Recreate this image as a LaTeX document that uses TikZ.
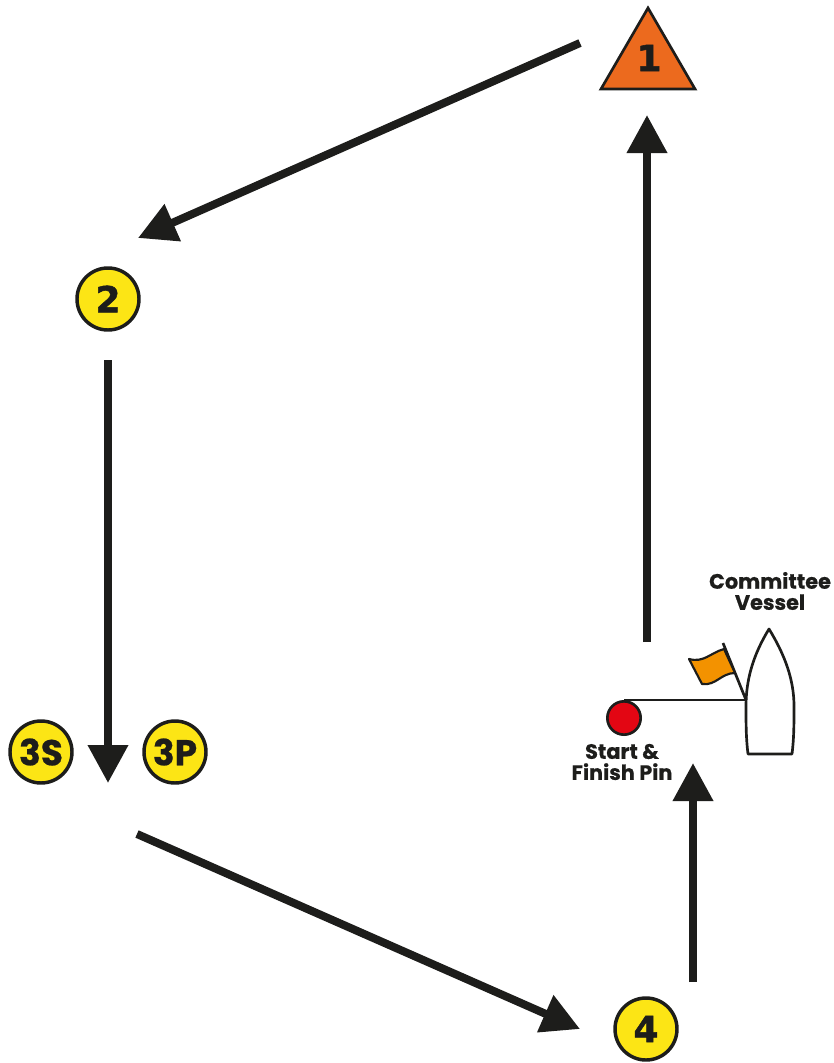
\documentclass[tikz,border=0pt]{standalone}
\usepackage{fontspec}
\setmainfont{Poppins}[BoldFont=Poppins Bold,BoldFeatures={FakeBold=0.6}]
\newfontfamily\markfont{DejaVu Sans Bold}[FakeBold=1.5]
\usetikzlibrary{arrows.meta}
\definecolor{ink}{HTML}{1D1D1B}
\definecolor{markyellow}{HTML}{FCE515}
\definecolor{markorange}{HTML}{EC6A1E}
\definecolor{flagorange}{HTML}{F39200}
\definecolor{pinred}{HTML}{E30613}
\tikzset{
  x=0.75pt,y=-0.75pt,
  leg/.style={draw=ink,line width=6pt,-{Triangle[length=28.5pt,width=29pt,fill=ink]}},
  buoy/.style={circle,draw=ink,line width=2.6pt,fill=markyellow,minimum size=46.5pt,inner sep=0pt,text=ink,font=\markfont\fontsize{27}{29}\selectfont},
  buoysm/.style={buoy,font=\bfseries\fontsize{27}{29}\selectfont},
  caption/.style={text=ink,font=\bfseries\fontsize{15.6}{15.8}\selectfont,align=center,inner sep=0pt},
  thinline/.style={draw=ink,line width=2pt},
}
\begin{document}
\begin{tikzpicture}
\useasboundingbox (0,0) rectangle (834,1063);
\fill[white] (0,0) rectangle (834,1063);
% marks
\coordinate (t1) at (648,8);
\coordinate (t2) at (601,89);
\coordinate (t3) at (695,89);
\filldraw[fill=markorange,draw=ink,line width=2pt,line join=miter] (t1) -- (t2) -- (t3) -- cycle;
\node[text=ink,font=\markfont\fontsize{27}{29}\selectfont,inner sep=0pt] (m1) at (649,58) {1};
\node[buoy] (m2) at (108,299) {2};
\node[buoysm] (m3s) at (41,752) {3S};
\node[buoysm] (m3p) at (175,752) {3P};
\node[buoy] (m4) at (646,1029) {4};
% legs
\coordinate (a1) at (580,43);
\coordinate (a2) at (138,238);
\coordinate (b1) at (108,360);
\coordinate (b2) at (108,783);
\coordinate (c1) at (137,834);
\coordinate (c2) at (580,1029);
\coordinate (d1) at (693,982);
\coordinate (d2) at (693,763);
\coordinate (e1) at (647,642);
\coordinate (e2) at (647,115);
\draw[leg] (a1) -- (a2);
\draw[leg] (b1) -- (b2);
\draw[leg] (c1) -- (c2);
\draw[leg] (d1) -- (d2);
\draw[leg] (e1) -- (e2);
% line and pin
\node[circle,draw=ink,line width=2pt,fill=pinred,minimum size=25pt,inner sep=0pt] (pin) at (624,718) {};
\coordinate (hullport) at (746,700);
\draw[thinline] (pin.north) -- (hullport);
% hull
\filldraw[fill=white,thinline,line join=round] (769,629)
  .. controls (753,655) and (746,680) .. (746,706)
  .. controls (746,724) and (746,738) .. (748,754)
  -- (792,754)
  .. controls (794,738) and (794,724) .. (794,706)
  .. controls (794,680) and (785,655) .. (769,629) -- cycle;
% flag
\coordinate (poletop) at (723,643);
\draw[thinline] (poletop) -- (hullport);
\filldraw[fill=flagorange,draw=ink,line width=1.6pt,line join=round] (689,659)
  .. controls (704,663) and (710,653) .. (724,649)
  -- (735,673)
  .. controls (721,673) and (716,686) .. (702,684) -- cycle;
% captions
\node[caption] (cv) at (770,591) {Committee\\Vessel};
\node[caption] (sf) at (622,762) {Start \&\\Finish Pin};
\end{tikzpicture}
\end{document}
